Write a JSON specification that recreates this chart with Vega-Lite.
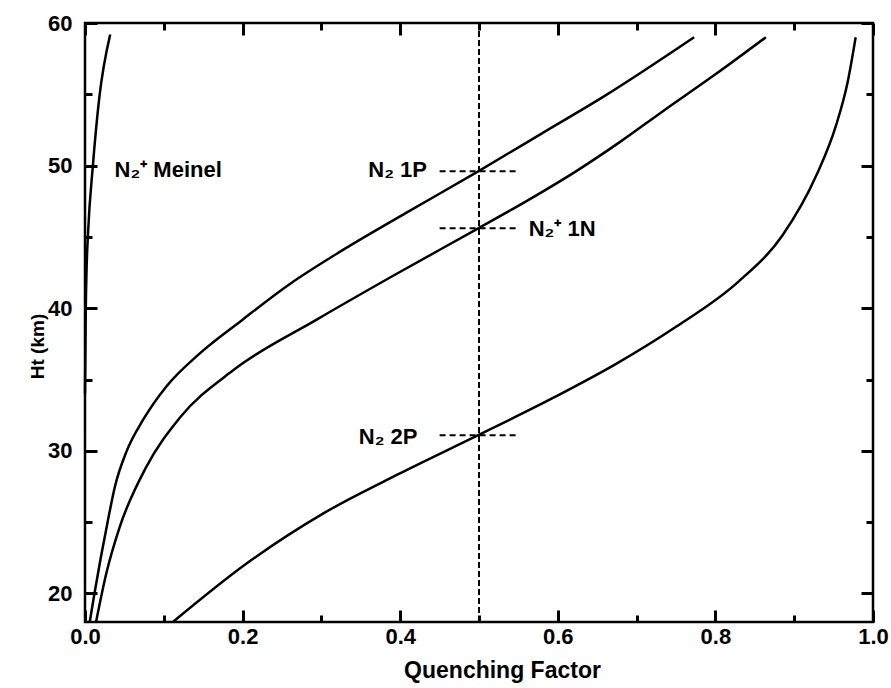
{
  "$schema": "https://vega.github.io/schema/vega-lite/v6.json",
  "width": 788,
  "height": 599,
  "autosize": {"type": "none"},
  "padding": {"left": 85, "top": 23, "right": 18, "bottom": 66},
  "background": "white",
  "config": {
    "view": {"stroke": "black", "strokeWidth": 2.5},
    "font": "Liberation Sans",
    "axis": {"grid": false, "domain": false, "labelColor": "black", "titleColor": "black"}
  },
  "datasets": {
    "curves": [
      {"series": "N2 1P", "x": 0.006, "y": 18.0},
      {"series": "N2 1P", "x": 0.012, "y": 20.0},
      {"series": "N2 1P", "x": 0.029, "y": 25.1},
      {"series": "N2 1P", "x": 0.038, "y": 27.5},
      {"series": "N2 1P", "x": 0.053, "y": 30.0},
      {"series": "N2 1P", "x": 0.074, "y": 32.2},
      {"series": "N2 1P", "x": 0.103, "y": 34.5},
      {"series": "N2 1P", "x": 0.145, "y": 36.8},
      {"series": "N2 1P", "x": 0.2, "y": 39.2},
      {"series": "N2 1P", "x": 0.26, "y": 41.7},
      {"series": "N2 1P", "x": 0.319, "y": 43.8},
      {"series": "N2 1P", "x": 0.408, "y": 46.7},
      {"series": "N2 1P", "x": 0.499, "y": 49.6},
      {"series": "N2 1P", "x": 0.581, "y": 52.3},
      {"series": "N2 1P", "x": 0.657, "y": 54.8},
      {"series": "N2 1P", "x": 0.773, "y": 59.0},
      {"series": "N2+ 1N", "x": 0.014, "y": 18.0},
      {"series": "N2+ 1N", "x": 0.027, "y": 21.4},
      {"series": "N2+ 1N", "x": 0.044, "y": 24.65},
      {"series": "N2+ 1N", "x": 0.078, "y": 28.9},
      {"series": "N2+ 1N", "x": 0.12, "y": 32.3},
      {"series": "N2+ 1N", "x": 0.188, "y": 35.65},
      {"series": "N2+ 1N", "x": 0.294, "y": 39.2},
      {"series": "N2+ 1N", "x": 0.395, "y": 42.4},
      {"series": "N2+ 1N", "x": 0.499, "y": 45.6},
      {"series": "N2+ 1N", "x": 0.563, "y": 47.6},
      {"series": "N2+ 1N", "x": 0.623, "y": 49.6},
      {"series": "N2+ 1N", "x": 0.68, "y": 51.7},
      {"series": "N2+ 1N", "x": 0.733, "y": 53.8},
      {"series": "N2+ 1N", "x": 0.8, "y": 56.4},
      {"series": "N2+ 1N", "x": 0.864, "y": 59.0},
      {"series": "N2 2P", "x": 0.1115, "y": 18.0},
      {"series": "N2 2P", "x": 0.205, "y": 22.1},
      {"series": "N2 2P", "x": 0.302, "y": 25.6},
      {"series": "N2 2P", "x": 0.399, "y": 28.4},
      {"series": "N2 2P", "x": 0.499, "y": 31.1},
      {"series": "N2 2P", "x": 0.597, "y": 33.8},
      {"series": "N2 2P", "x": 0.674, "y": 36.1},
      {"series": "N2 2P", "x": 0.75, "y": 38.7},
      {"series": "N2 2P", "x": 0.83, "y": 41.9},
      {"series": "N2 2P", "x": 0.885, "y": 45.1},
      {"series": "N2 2P", "x": 0.928, "y": 49.3},
      {"series": "N2 2P", "x": 0.953, "y": 52.8},
      {"series": "N2 2P", "x": 0.968, "y": 55.9},
      {"series": "N2 2P", "x": 0.978, "y": 59.0}
    ],
    "meinel": [
      {"x": 0.0, "y": 34.0},
      {"x": 0.001, "y": 40.0},
      {"x": 0.002, "y": 42.7},
      {"x": 0.004, "y": 45.4},
      {"x": 0.01, "y": 50.0},
      {"x": 0.018, "y": 54.7},
      {"x": 0.032, "y": 59.2}
    ],
    "vline": [{"x": 0.5, "y": 18, "y2": 60}],
    "hlines": [
      {"x": 0.45, "x2": 0.55, "y": 49.6},
      {"x": 0.45, "x2": 0.55, "y": 45.6},
      {"x": 0.45, "x2": 0.55, "y": 31.1}
    ],
    "labelsLeft": [
      {"label": "N₂⁺ Meinel", "x": 0.0375, "y": 49.2},
      {"label": "N₂⁺ 1N", "x": 0.563, "y": 45.1}
    ],
    "labelsRight": [
      {"label": "N₂ 1P", "x": 0.434, "y": 49.2},
      {"label": "N₂ 2P", "x": 0.422, "y": 30.5}
    ]
  },
  "resolve": {"axis": {"x": "independent", "y": "independent"}},
  "layer": [
    {
      "data": {"name": "curves"},
      "mark": {"type": "line", "color": "black", "strokeWidth": 2.5, "interpolate": "monotone"},
      "encoding": {
        "x": {"field": "x", "type": "quantitative", "scale": {"domain": [0, 1], "nice": false, "zero": false},
          "axis": {"orient": "bottom", "values": [0, 0.1, 0.2, 0.3, 0.4, 0.5, 0.6, 0.7, 0.8, 0.9, 1.0],
            "labelExpr": "round(datum.value*10) % 2 == 0 ? format(datum.value, '.1f') : ''",
            "ticks": true, "tickColor": "#000000", "tickWidth": 3, "tickOpacity": 1, "zindex": 2,
            "tickSize": {"condition": {"test": "round(datum.value*10) % 2 == 0", "value": -12}, "value": -7},
            "labelFlush": false, "labelOverlap": false, "labelBound": false,
            "labelFontSize": 22, "labelFontWeight": "bold", "labelPadding": 16,
            "title": "Quenching Factor", "titleFontSize": 23, "titleFontWeight": "bold", "titleX": 417, "titleY": 55, "titleBaseline": "alphabetic", "titleAlign": "center"}},
        "y": {"field": "y", "type": "quantitative", "scale": {"domain": [18, 60], "nice": false, "zero": false},
          "axis": {"orient": "left", "values": [20, 25, 30, 35, 40, 45, 50, 55, 60],
            "labelExpr": "datum.value % 10 == 0 ? datum.label : ''",
            "ticks": true, "tickColor": "#000000", "tickWidth": 3, "tickOpacity": 1, "zindex": 2,
            "tickSize": {"condition": {"test": "datum.value % 10 == 0", "value": -12}, "value": -7},
            "labelOverlap": false, "labelBound": false,
            "labelFontSize": 22, "labelFontWeight": "bold", "labelPadding": 25,
            "title": "Ht (km)", "titleFontSize": 19, "titleFontWeight": "bold", "titleAngle": -90, "titleX": -48, "titleY": 323, "titleAlign": "center", "titleBaseline": "middle"}},
        "detail": {"field": "series"},
        "order": {"field": "y", "type": "quantitative"}
      }
    },
    {
      "data": {"name": "vline"},
      "mark": {"type": "rule", "color": "black", "strokeWidth": 2, "strokeDash": [6, 3]},
      "encoding": {
        "x": {"field": "x", "type": "quantitative", "axis": {"orient": "top", "values": [0, 0.1, 0.2, 0.3, 0.4, 0.5, 0.6, 0.7, 0.8, 0.9, 1.0], "labels": false,
          "ticks": true, "tickColor": "#000000", "tickWidth": 3, "tickOpacity": 1, "zindex": 2,
          "tickSize": {"condition": {"test": "round(datum.value*10) % 2 == 0", "value": -12}, "value": -7}, "title": null}},
        "y": {"field": "y", "type": "quantitative", "axis": {"orient": "right", "values": [20, 25, 30, 35, 40, 45, 50, 55, 60], "labels": false,
          "ticks": true, "tickColor": "#000000", "tickWidth": 3, "tickOpacity": 1, "zindex": 2,
          "tickSize": {"condition": {"test": "datum.value % 10 == 0", "value": -12}, "value": -7}, "title": null}},
        "y2": {"field": "y2"}
      }
    },
    {
      "data": {"name": "hlines"},
      "mark": {"type": "rule", "color": "black", "strokeWidth": 2, "strokeDash": [6, 4]},
      "encoding": {
        "x": {"field": "x", "type": "quantitative", "axis": null},
        "x2": {"field": "x2"},
        "y": {"field": "y", "type": "quantitative", "axis": null}
      }
    },
    {
      "data": {"name": "meinel"},
      "mark": {"type": "line", "color": "black", "strokeWidth": 2.5, "interpolate": "monotone"},
      "encoding": {
        "x": {"field": "x", "type": "quantitative", "axis": null},
        "y": {"field": "y", "type": "quantitative", "axis": null},
        "order": {"field": "y", "type": "quantitative"}
      }
    },
    {
      "data": {"name": "labelsLeft"},
      "mark": {"type": "text", "align": "left", "baseline": "alphabetic", "fontSize": 22, "fontWeight": "bold", "color": "black"},
      "encoding": {
        "x": {"field": "x", "type": "quantitative", "axis": null},
        "y": {"field": "y", "type": "quantitative", "axis": null},
        "text": {"field": "label"}
      }
    },
    {
      "data": {"name": "labelsRight"},
      "mark": {"type": "text", "align": "right", "baseline": "alphabetic", "fontSize": 22, "fontWeight": "bold", "color": "black"},
      "encoding": {
        "x": {"field": "x", "type": "quantitative", "axis": null},
        "y": {"field": "y", "type": "quantitative", "axis": null},
        "text": {"field": "label"}
      }
    }
  ]
}
